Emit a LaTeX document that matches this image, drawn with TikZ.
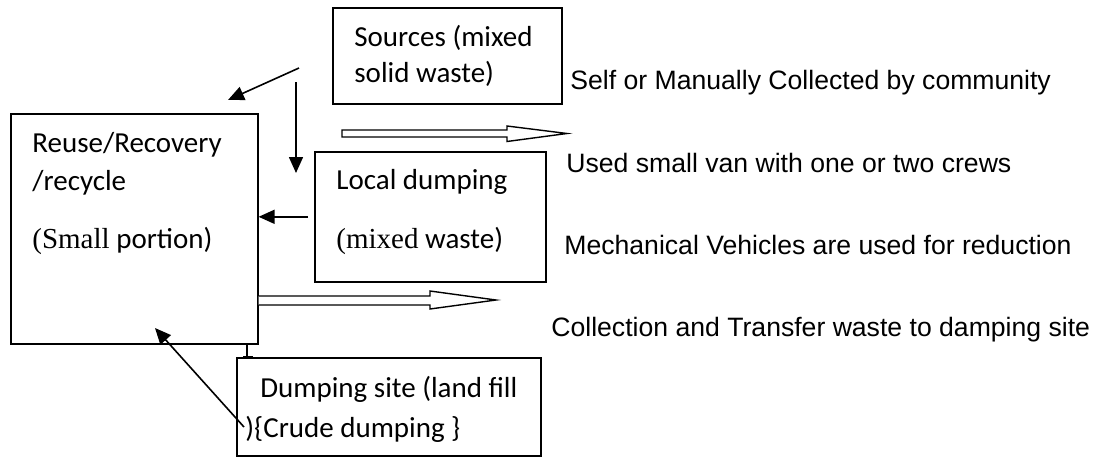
\documentclass[tikz,border=0pt]{standalone}
\usepackage{fontspec}
\setmainfont{Carlito}
\newfontfamily\arialfont{Liberation Sans}
\newfontfamily\timesfont{Liberation Serif}
\usetikzlibrary{arrows.meta,positioning}
\tikzset{
  every picture/.append style={line join=miter},
  waste box/.style={draw,line width=0.8pt,inner sep=0pt,anchor=north west},
  waste text/.style={inner sep=0pt,anchor=base west,font=\fontsize{14.5}{17}\selectfont},
  waste note/.style={inner sep=0pt,anchor=base west,font=\arialfont\fontsize{13.3}{16}\selectfont},
  waste arrow/.style={line width=0.8pt,-{Triangle[length=8pt,width=7pt]}},
  waste hollow/.style={draw,line width=0.7pt,fill=white}
}
\begin{document}
\begin{tikzpicture}[x=0.5pt,y=-0.5pt]
  \useasboundingbox (0,0) rectangle (1094,456);
  % boxes
  \node[waste box,minimum width=114.5pt,minimum height=48pt] (src) at (332,7) {};
  \node[waste box,minimum width=123.5pt,minimum height=115pt] (reuse) at (10,113) {};
  \node[waste box,minimum width=115.5pt,minimum height=65pt] (local) at (314,151) {};
  \node[waste box,minimum width=152pt,minimum height=49pt] (site) at (236,357) {};
  % box texts
  \node[waste text] (srcA) at (354,46) {Sources (mixed};
  \node[waste text] (srcB) at (354,82) {solid waste)};
  \node[waste text] (reuseA) at (32,152) {Reuse/Recovery};
  \node[waste text] (reuseB) at (32,190) {/recycle};
  \node[waste text] (reuseC) at (32,248) {{\timesfont(Small} portion)};
  \node[waste text] (localA) at (336,189) {Local dumping};
  \node[waste text] (localB) at (336,248) {{\timesfont(mixed} waste)};
  \node[waste text] (siteA) at (260,397) {Dumping site (land fill};
  \node[waste text] (siteB) at (245,437) {)\{Crude dumping \}};
  % notes on the right
  \node[waste note] (noteA) at (570,89) {Self or Manually Collected by community};
  \node[waste note] (noteB) at (566,172) {Used small van with one or two crews};
  \node[waste note] (noteC) at (564,254) {Mechanical Vehicles are used for reduction};
  \node[waste note] (noteD) at (551,336) {Collection and Transfer waste to damping site};
  % loose arrow ends
  \coordinate (diagS) at (299,68);
  \coordinate (diagE) at (228,100);
  \coordinate (downS) at (296,82);
  \coordinate (downE) at (296,173);
  \coordinate (backS) at (244,427);
  \coordinate (backE) at (155,328);
  % arrows
  \draw[waste arrow] (diagS) -- (diagE);
  \draw[waste arrow] (downS) -- (downE);
  \draw[waste arrow] ([xshift=-3pt]local.west) -- (reuse.east |- local.west);
  \draw[waste arrow] (backS) -- (backE);
  \draw[line width=0.8pt] (reuse.south -| 247,0) -- (site.north -| 247,0);
  \draw[line width=0.8pt] (site.north -| 243,0) -- (site.north -| 253,0);
  % hollow arrows
  \draw[waste hollow] (342,130) -- (507,130) -- (507,126) -- (567,133.5)
    -- (507,141.5) -- (507,137) -- (342,137) -- cycle;
  \draw[waste hollow] (reuse.east |- 0,296) -- (430,296) -- (430,291) -- (496,300)
    -- (430,309) -- (430,305) -- (reuse.east |- 0,305);
\end{tikzpicture}
\end{document}
